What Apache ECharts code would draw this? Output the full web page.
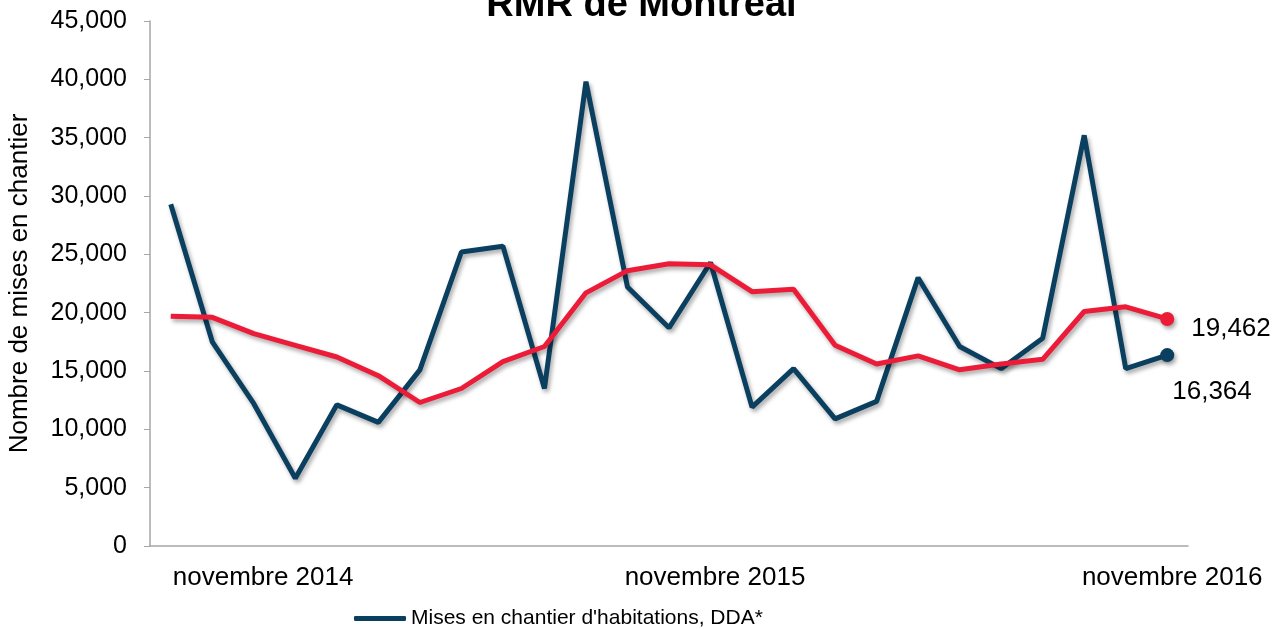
<!DOCTYPE html>
<html>
<head>
<meta charset="utf-8">
<script src="https://cdn.jsdelivr.net/npm/echarts@6/dist/echarts.min.js"></script>
<style>
  html, body { margin: 0; padding: 0; background: #fff; }
  #chart { width: 1283px; height: 629px; }
</style>
</head>
<body>
<div id="chart"></div>
<script>
// mois, de novembre 2014 a novembre 2016
var months = [
    'novembre 2014', 'décembre 2014', 'janvier 2015', 'février 2015', 'mars 2015', 'avril 2015',
    'mai 2015', 'juin 2015', 'juillet 2015', 'août 2015', 'septembre 2015', 'octobre 2015',
    'novembre 2015', 'décembre 2015', 'janvier 2016', 'février 2016', 'mars 2016', 'avril 2016',
    'mai 2016', 'juin 2016', 'juillet 2016', 'août 2016', 'septembre 2016', 'octobre 2016',
    'novembre 2016'
];
// mises en chantier (DDA)
var startsDDA = [
    29300, 17500, 12200, 5800, 12100, 10600, 15100, 25200, 25700, 13500, 39800, 22200,
    18700, 24300, 11900, 15200, 10900, 12400, 23000, 17100, 15200, 17800, 35200, 15200,
    16364
];
// tendance
var trend = [
    19700, 19600, 18200, 17200, 16200, 14600, 12300, 13500, 15800, 17100, 21700, 23600,
    24200, 24100, 21800, 22000, 17200, 15600, 16300, 15100, 15600, 16000, 20100, 20500,
    19462
];
var yTicks = [0, 45000, 5000]; // min, max, pas

var blueName = "Mises en chantier d'habitations, DDA*";
var redName = 'Tendance';
var blue = '#0b3f5f';
var red = '#ec1c39';

function fmt(v) {
    return String(v).replace(/\B(?=(\d{3})+(?!\d))/g, ',');
}

// seul le dernier point a un marqueur et une etiquette
function buildData(arr, color, labelOpt) {
    var out = [];
    for (var i = 0; i < arr.length; i++) {
        if (i == arr.length - 1) {
            out.push({
                value: arr[i],
                symbol: 'circle',
                symbolSize: 14,
                itemStyle: { color: color, shadowColor: 'rgba(0,0,0,0.35)', shadowBlur: 4, shadowOffsetX: 2, shadowOffsetY: 3 },
                label: labelOpt
            });
        } else {
            out.push(arr[i]);
        }
    }
    return out;
}

// etiquettes de l'axe x : decalage comme dans l'original
var xData = months.map(function (m, i) {
    if (i == 0) return { value: m, textStyle: { align: 'left', padding: [0, 0, 0, 2] } };
    if (i == 12) return { value: m, textStyle: { padding: [0, 0, 0, 92] } };
    if (i == 24) return { value: m, textStyle: { padding: [0, 0, 0, 10] } };
    return m;
});

var chart = echarts.init(document.getElementById('chart'));
var option = {
    animation: false,
    title: {
        text: 'RMR de Montréal',
        left: 'center',
        top: -18,
        textStyle: { fontFamily: 'Liberation Sans', fontWeight: 'bold', fontSize: 38, color: '#000' }
    },
    legend: {
        data: [blueName],
        left: 349,
        top: 603,
        icon: 'roundRect',
        itemWidth: 52,
        itemHeight: 5,
        itemGap: 5,
        textStyle: { fontFamily: 'Liberation Sans', fontSize: 21, color: '#000' }
    },
    grid: {
        left: 150,
        right: 95,
        top: 21,
        bottom: 83,
        outerBoundsMode: 'none'
    },
    xAxis: {
        type: 'category',
        data: xData,
        boundaryGap: true,
        axisLine: { lineStyle: { color: '#a6a6a6', width: 1.5 } },
        axisTick: { show: false },
        axisLabel: {
            interval: function (index) { return index % 12 == 0; },
            margin: 19,
            fontFamily: 'Liberation Sans',
            fontSize: 26,
            color: '#000',
            hideOverlap: false
        },
        splitLine: { show: false }
    },
    yAxis: {
        type: 'value',
        min: yTicks[0],
        max: yTicks[1],
        interval: yTicks[2],
        name: 'Nombre de mises en chantier',
        nameLocation: 'middle',
        nameGap: 117,
        nameTextStyle: { fontFamily: 'Liberation Sans', fontSize: 26, color: '#000' },
        axisLine: { show: true, lineStyle: { color: '#a6a6a6', width: 1.5 } },
        axisTick: { show: true, length: 6, lineStyle: { color: '#a6a6a6' } },
        axisLabel: {
            formatter: function (v) { return fmt(v); },
            margin: 23,
            fontFamily: 'Liberation Sans',
            fontSize: 25,
            color: '#000'
        },
        splitLine: { show: false }
    },
    series: [
        {
            name: blueName,
            type: 'line',
            symbol: 'none',
            showSymbol: true,
            showAllSymbol: true,
            color: blue,
            lineStyle: { color: blue, width: 5, shadowColor: 'rgba(0,0,0,0.35)', shadowBlur: 4, shadowOffsetX: 2, shadowOffsetY: 3 },
            data: buildData(startsDDA, blue, {
                show: true, position: 'right', distance: 0, offset: [-2, 37],
                formatter: function (p) { return fmt(p.value); },
                fontFamily: 'Liberation Sans', fontSize: 26, color: '#000'
            }),
            z: 2
        },
        {
            name: redName,
            type: 'line',
            symbol: 'none',
            showSymbol: true,
            showAllSymbol: true,
            color: red,
            lineStyle: { color: red, width: 5, shadowColor: 'rgba(0,0,0,0.35)', shadowBlur: 4, shadowOffsetX: 2, shadowOffsetY: 3 },
            data: buildData(trend, red, {
                show: true, position: 'right', distance: 17, offset: [0, 10],
                formatter: function (p) { return fmt(p.value); },
                fontFamily: 'Liberation Sans', fontSize: 26, color: '#000'
            }),
            z: 3
        }
    ]
};
chart.setOption(option);
</script>
</body>
</html>
